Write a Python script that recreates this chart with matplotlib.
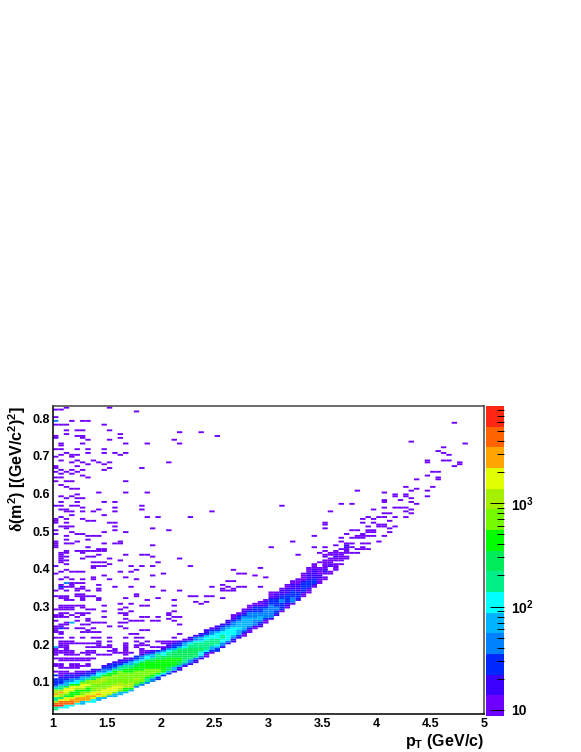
import numpy as np
import matplotlib
matplotlib.use('Agg')
import matplotlib.pyplot as plt
from matplotlib.colors import BoundaryNorm, ListedColormap

plt.rcParams['font.family'] = ['Liberation Sans', 'DejaVu Sans']
plt.rcParams['font.weight'] = 'bold'
plt.rcParams['mathtext.fontset'] = 'custom'
plt.rcParams['mathtext.rm'] = 'Liberation Sans:bold'
plt.rcParams['mathtext.it'] = 'Liberation Sans:bold'
plt.rcParams['mathtext.bf'] = 'Liberation Sans:bold'
plt.rcParams['mathtext.cal'] = 'Liberation Serif'

# histogram binning
pt_bins = np.linspace(1, 5, 81)
dm2_bins = 0.015 + 0.005 * np.arange(165)
band_step = 0.0066

# main band: lower edge of each pT bin, then counts going up in dm2
band_bottom = [.026, .029, .032, .035, .038, .041, .044, .047, .051, .054, .058, .062, .066, .070, .074,
               .083, .089, .095, .101, .107, .113, .119, .125, .131, .138, .145, .152, .159, .166, .174,
               .182, .190, .198, .206, .214, .222, .231, .239, .247, .256, .265, .275, .285, .295, .305,
               .315, .326, .337, .348, .360, .372, .384, .396, .408, .424]
band_counts = [
    [180, 7000, 4500, 1150, 180, 1800, 2900, 1150, 180, 72, 29, 18, 29],
    [115, 7000, 4500, 1800, 290, 1150, 2900, 1150, 180, 72, 29, 18, 18],
    [115, 4500, 4500, 1800, 290, 720, 1800, 1800, 290, 72, 45, 18, 18],
    [115, 4500, 2900, 1800, 460, 460, 1800, 1800, 460, 115, 45, 18],
    [115, 2900, 2900, 1800, 460, 460, 1150, 1800, 460, 115, 45, 29, 18],
    [72, 2900, 2900, 1800, 720, 460, 1150, 1800, 720, 180, 72, 29, 18],
    [115, 2900, 2900, 1800, 720, 460, 720, 1800, 720, 180, 72, 29, 18],
    [115, 1800, 2900, 1800, 720, 720, 720, 1150, 1150, 290, 72, 29, 18],
    [72, 1800, 2900, 1800, 1150, 720, 720, 1150, 1150, 290, 115, 45, 18],
    [72, 1150, 1800, 1800, 1150, 720, 720, 1150, 1150, 460, 115, 45, 29, 18],
    [72, 1150, 1800, 1800, 1150, 720, 720, 720, 1150, 460, 115, 45, 29, 18],
    [72, 720, 1800, 1800, 1150, 720, 720, 720, 1150, 460, 180, 45, 29, 18],
    [72, 720, 1150, 1800, 1150, 720, 720, 720, 720, 720, 180, 72, 29, 18],
    [72, 460, 1150, 1150, 720, 720, 720, 720, 460, 460, 180, 72, 29, 18],
    [72, 460, 1150, 1150, 720, 720, 720, 720, 460, 290, 180, 72, 29, 18],
    [45, 290, 720, 1150, 720, 720, 720, 460, 460, 290, 115, 72, 29],
    [45, 290, 720, 720, 720, 720, 460, 460, 460, 290, 115, 45, 18],
    [45, 180, 460, 720, 720, 720, 460, 460, 460, 290, 115, 45, 18],
    [45, 180, 460, 720, 720, 460, 460, 460, 290, 180, 72, 29, 18],
    [29, 115, 460, 720, 460, 460, 460, 460, 290, 180, 72, 29],
    [29, 115, 460, 460, 460, 460, 460, 290, 290, 115, 45, 18],
    [29, 72, 290, 460, 460, 460, 460, 290, 180, 115, 45, 18],
    [18, 72, 290, 460, 460, 460, 290, 290, 180, 72, 29, 18],
    [18, 72, 290, 290, 460, 290, 290, 290, 180, 72, 29, 18],
    [18, 45, 180, 290, 290, 290, 290, 180, 115, 72, 29, 12],
    [18, 45, 180, 290, 290, 290, 290, 180, 115, 45, 18],
    [18, 45, 180, 290, 290, 290, 180, 180, 115, 45, 18],
    [18, 45, 115, 180, 290, 180, 180, 115, 72, 29, 18],
    [12, 29, 115, 180, 180, 180, 180, 115, 72, 29, 18],
    [12, 29, 72, 180, 180, 180, 115, 115, 45, 29, 12],
    [29, 72, 115, 180, 180, 115, 115, 72, 29, 18],
    [18, 45, 115, 115, 180, 115, 115, 45, 29, 18],
    [18, 45, 115, 115, 115, 115, 72, 45, 29, 18],
    [18, 45, 72, 115, 115, 115, 72, 45, 29, 18, 12],
    [18, 29, 72, 72, 115, 72, 72, 45, 29, 18, 12],
    [12, 29, 45, 72, 72, 72, 72, 45, 29, 18, 12],
    [12, 29, 45, 72, 72, 72, 45, 45, 29, 18, 12],
    [12, 18, 45, 45, 72, 45, 45, 29, 29, 18, 12],
    [18, 29, 45, 72, 45, 45, 29, 29, 18, 12],
    [12, 29, 45, 45, 45, 45, 29, 18, 18, 12],
    [18, 45, 45, 45, 45, 45, 29, 29, 18, 12, 12],
    [18, 29, 45, 45, 29, 29, 29, 18, 18, 12],
    [12, 29, 29, 29, 45, 29, 29, 18, 18, 12],
    [12, 18, 29, 29, 29, 29, 18, 18, 12, 12],
    [12, 45, 45, 29, 29, 29, 18, 18, 12, 12],
    [18, 29, 29, 29, 18, 18, 18, 12, 12],
    [12, 18, 29, 29, 29, 29, 18, 12, 12, 12],
    [12, 18, 29, 29, 29, 18, 18, 18, 12, 12],
    [12, 18, 29, 29, 18, 18, 18, 18, 12, 12],
    [12, 12, 18, 18, 12, 12, 12, 0, 12],
    [12, 0, 12, 18, 12, 12, 12, 12, 0, 12],
    [12, 12, 0, 18, 12, 12, 12, 0, 12],
    [12, 12, 12, 0, 12, 18, 12, 12],
    [12, 0, 12, 12, 12, 0, 12],
    [12, 12, 0, 12, 0, 18, 12],
]

# scattered low-count cells: dm2 value, then the pT bins filled at that value
sparse_rows = [
    (.830, [2, 10]), (.825, [0, 1]), (.818, [15]), (.805, [0]), (.793, [0, 3, 5, 6]), (.782, [0, 1, 2, 9]),
    (.770, [2, 4, 5, 10]), (.765, [23, 27]), (.759, [2, 12]), (.753, [0, 4, 5, 30]), (.749, [0, 5, 12]),
    (.741, [6, 10, 22]), (.735, [1, 5, 13, 17, 23]), (.726, [1]), (.718, [0, 1, 4, 6, 9]),
    (.708, [2, 6, 9, 11, 13]), (.701, [1, 3, 4, 12]), (.696, [0, 3]), (.688, [1, 4, 7]),
    (.684, [8, 10, 21, 3, 5]), (.679, [6, 9]), (.674, [0, 4]), (.668, [0, 10, 16]), (.664, [1, 3, 5, 9]),
    (.657, [0, 2, 4]), (.653, [1, 3]), (.650, [5]), (.645, [0]), (.641, [1, 6]), (.635, [2, 13, 3]),
    (.631, [0]), (.623, [1]), (.618, [2]), (.611, [3, 4]), (.605, [8, 13, 17]), (.598, [4]), (.594, [1, 3]),
    (.588, [2, 4, 5]), (.577, [1, 4, 9, 11]), (.570, [0, 1, 3, 4, 16, 42]), (.565, [5, 11]),
    (.559, [1, 2, 8, 16]), (.552, [29]), (.551, [2, 3, 5, 7, 11]), (.544, [3, 9]), (.539, [1, 17, 19]),
    (.537, [25]), (.534, [0, 2, 5]), (.529, [0, 6, 7]), (.524, [0, 2]), (.521, [10, 11]),
    (.515, [1, 2, 3, 11]), (.510, [2, 18]), (.504, [0, 11, 21]), (.498, [3, 9, 13]), (.493, [0, 4, 5]),
    (.490, [6, 8]), (.487, [2, 7]), (.479, [2, 6]), (.472, [4, 12, 0]), (.467, [0, 2, 3, 9, 11, 12]),
    (.462, [0, 18]), (.459, [0, 6, 40]), (.453, [8, 9]), (.446, [2, 4, 5, 6, 7, 8, 9]), (.441, [1, 2, 5]),
    (.437, [1, 8, 13, 16, 17]), (.433, [1, 2, 18, 6, 7]), (.428, [1, 5, 10, 23]), (.421, [1, 2, 12]),
    (.417, [1, 7, 8, 9, 19]), (.413, [2, 10]), (.410, [25]), (.408, [0, 7, 8, 9, 14, 16, 18]), (.404, [7, 38]),
    (.399, [2, 15, 33]), (.394, [1, 12, 14]), (.391, [3, 4, 5]), (.390, [34]), (.389, [20]), (.387, [35]),
    (.386, [0]), (.383, [37]), (.382, [9, 18]), (.377, [2, 7, 13, 39]), (.374, [3, 10]), (.372, [1, 5, 7, 15]),
    (.369, [32]), (.367, [33]), (.364, [2, 3, 4, 5]), (.357, [1, 3, 8, 31]), (.353, [1, 2, 3, 5, 11, 14, 18, 32, 34, 35]),
    (.352, [29, 38]), (.348, [1, 4, 5, 8, 31, 33]), (.342, [0, 2, 4, 6, 8, 20, 23, 31, 32, 33]), (.335, [4, 5, 15]),
    (.330, [0, 1, 2, 4, 5, 6, 7, 15, 25, 26]), (.328, [28, 29]), (.324, [1, 2, 5, 8, 13, 19]), (.322, [31]),
    (.317, [2, 3, 5, 8, 17, 22]), (.314, [26, 28]), (.310, [12, 14]), (.309, [37]), (.308, [27]),
    (.304, [1, 2, 3, 4, 5, 9, 16, 17, 22]), (.298, [1, 2, 3, 5, 13]), (.292, [0, 1, 2, 3, 6, 7, 12]),
    (.288, [9, 14, 22]), (.284, [1, 2, 4, 5, 6, 12, 13, 21]), (.278, [0, 1, 3, 5, 13, 21]),
    (.272, [0, 1, 2, 4, 9, 16, 17, 19, 22, 23]), (.267, [6, 13, 21]), (.262, [0, 4, 6, 14, 15, 16, 18, 19, 22]),
    (.256, [2, 3, 7, 8, 9, 13, 12]), (.251, [1, 2, 5, 6, 23]), (.247, [0, 1, 10, 12]),
    (.241, [0, 1, 2, 4, 5, 7, 13]), (.238, [0, 6, 16, 17]), (.232, [0, 1, 5, 6, 7, 8]), (.227, [1, 14, 15, 23]),
    (.220, [0, 1, 3, 5, 7, 8, 10, 13]), (.216, [1, 5, 10, 15, 22, 16]), (.210, [1, 2, 3, 8, 17, 19, 20]),
    (.206, [10, 15, 19, 21, 22]), (.203, [1, 2, 3, 4, 5, 6, 7, 8, 13, 16, 20, 21]),
    (.197, [1, 2, 8, 10, 13, 15, 16, 17, 21, 22]), (.191, [0, 1, 2, 6, 7, 8, 9, 10, 13, 15, 18, 19, 20, 23]),
    (.188, [0, 2, 11, 13, 16]), (.182, [0, 1, 2, 3, 6, 7, 10, 11, 13, 16, 17, 19]),
    (.176, [0, 1, 2, 3, 5, 6, 7, 11, 12, 13, 14, 16, 21]), (.170, [0, 2, 3, 4, 6, 8, 9, 10, 13, 16, 17, 18, 19]),
    (.163, [0, 1, 2, 3, 4, 5, 6, 7, 13, 14, 17, 21, 22]), (.156, [1, 2, 3, 4, 5, 6, 13, 14, 15, 16, 17, 18, 19]),
    (.149, [0, 1, 3, 4, 6, 11, 12, 13, 15, 16, 17]), (.143, [0, 1, 3, 4, 5, 6, 9, 10, 12, 13, 15]),
    (.136, [1, 2, 3, 4, 9, 10, 11, 12, 14]), (.130, [0, 1, 2, 4, 5, 6, 8, 9, 10, 11, 12, 13]),
    (.123, [1, 2, 3, 4, 8, 9, 10, 11]), (.117, [0, 1, 2, 3, 4, 6, 7, 8, 9]), (.110, [0, 1, 2, 3, 6, 7, 8]),
    (.103, [0, 1, 2, 4, 5, 6]), (.096, [0, 1, 2, 3, 4, 5]),
]

# the thin tail at high pT
tail_bin = [74, 66, 76, 72, 71, 72, 73, 69, 72, 73, 75, 75, 69, 74, 71, 70, 69, 71, 71, 67, 65, 70, 67, 66, 69,
            56, 61, 63, 65, 63, 65, 69, 66, 64, 61, 61, 66, 53, 55, 67, 61, 63, 64, 65, 66, 59, 65, 66, 51, 61,
            62, 58, 60, 61, 63, 65, 57, 59, 62, 50, 57, 59, 50, 60, 61, 58, 63, 50, 60, 61, 62, 55, 56, 58, 59,
            58, 59, 62, 54, 57, 56, 57, 58, 59, 61, 48, 55, 56, 57, 53, 44, 53, 60, 55, 57, 58, 54, 52, 55, 57,
            56, 57, 58, 48, 50, 53, 54, 50, 51, 55, 56, 54, 49, 53, 45, 52, 54]
tail_dm2 = [.787, .740, .734, .721, .711, .708, .703, .689, .689, .689, .685, .680, .682, .671, .658, .657, .650,
            .645, .637, .640, .618, .618, .612, .609, .610, .610, .604, .600, .600, .593, .595, .595, .587, .582,
            .584, .580, .580, .573, .573, .573, .565, .565, .565, .562, .559, .558, .552, .550, .552, .550, .547,
            .540, .540, .540, .537, .540, .535, .535, .530, .525, .525, .522, .517, .517, .517, .514, .514, .509,
            .512, .512, .507, .505, .502, .505, .505, .497, .497, .497, .492, .492, .490, .490, .487, .487, .487,
            .487, .482, .482, .482, .482, .473, .473, .471, .470, .470, .467, .464, .465, .458, .458, .453, .453,
            .453, .457, .457, .451, .451, .450, .445, .445, .445, .441, .443, .441, .440, .437, .435]

# cells that stand out from the lowest level
strong_bin = [0, 2, 3, 0, 1, 1, 0, 2, 1, 2, 3, 4, 0, 1, 3, 5]
strong_dm2 = [.793, .364, .256, .191, .353, .241, .117, .117, .110, .110, .096, .096, .103, .103, .117, .103]
strong_n = [45, 45, 72, 72, 29, 29, 29, 29, 29, 29, 29, 29, 29, 29, 29, 29]

level_colors = ['#6e00ff', '#3c00ff', '#0028ff', '#0082ff', '#00b4ff', '#00ffff', '#00f087', '#00eb5a',
                '#00ff00', '#73fa00', '#a5f000', '#e1ff00', '#ffa500', '#ff6400', '#ff2814']
levels = np.logspace(np.log10(8.75), np.log10(8660), 16)

counts = np.zeros((len(pt_bins) - 1, len(dm2_bins) - 1))


def fill(b, y, n):
    row = np.searchsorted(dm2_bins, y) - 1
    if 0 <= row < counts.shape[1]:
        counts[b, row] = max(counts[b, row], n)


for y, bins in sparse_rows:
    for b in bins:
        fill(b, y, 12)
for b, y in zip(tail_bin, tail_dm2):
    fill(b, y, 12)
for b, y, n in zip(strong_bin, strong_dm2, strong_n):
    fill(b, y, n)
# a band entry covers band_step in dm2, which can be more than one histogram row
centres = 0.5 * (dm2_bins[:-1] + dm2_bins[1:])
for b, (low, column) in enumerate(zip(band_bottom, band_counts)):
    for i, n in enumerate(column):
        inside = (centres >= low + band_step * i) & (centres < low + band_step * (i + 1))
        counts[b, inside] = np.maximum(counts[b, inside], n)

cmap = ListedColormap(level_colors)
norm = BoundaryNorm(levels, cmap.N)

fig = plt.figure(figsize=(5.81, 7.52), dpi=100)
ax = fig.add_axes([53 / 581, 38 / 752, 431 / 581, 308 / 752])
mesh = ax.pcolor(pt_bins, dm2_bins, np.ma.masked_less(counts.T, 1), cmap=cmap, norm=norm,
                 edgecolors='none', antialiased=True)
mesh.set_snap(False)
ax.set_xlim(1, 5)
ax.set_ylim(0.0151, 0.832)
ax.set_xticks([1, 1.5, 2, 2.5, 3, 3.5, 4, 4.5, 5], ['1', '1.5', '2', '2.5', '3', '3.5', '4', '4.5', '5'])
ax.set_yticks([.1, .2, .3, .4, .5, .6, .7, .8], ['0.1', '0.2', '0.3', '0.4', '0.5', '0.6', '0.7', '0.8'])
ax.tick_params(length=0, labelsize=9)
ax.tick_params(axis='y', pad=2)
ax.tick_params(axis='x', pad=3)
for name, spine in ax.spines.items():
    spine.set_linewidth(1.1)
    spine.set_color('black' if name in ('left', 'bottom') else '#444444')

fig.text(484 / 581, 1 - 746 / 752, r'$\mathregular{p_{T}}$ (GeV/c)', ha='right', va='baseline', fontsize=11.5)
fig.text(17 / 581, 1 - 406 / 752, r'$\mathcal{\delta}$(m$^{2}$) [(GeV/c$^{2}$)$^{2}$]', rotation=90, ha='center', va='top', fontsize=11.5)

cax = fig.add_axes([486 / 581, 36 / 752, 18 / 581, 310 / 752])
cax.pcolormesh([0, 1], levels, np.arange(15).reshape(-1, 1), cmap=cmap, vmin=0, vmax=14)
cax.set_yscale('log')
cax.set_ylim(levels[0], levels[-1])
cax.set_xlim(0, 1)
cax.set_xticks([])
cax.yaxis.tick_right()
cax.set_yticks([10, 100, 1000], ['10', r'10$^{2}$', r'10$^{3}$'])
cax.set_yticks([n * d for d in (10, 100, 1000) for n in range(2, 10) if n * d < 8600], minor=True)
cax.set_yticklabels([], minor=True)
cax.tick_params(axis='y', which='major', direction='in', length=10, width=0.7, labelsize=10, pad=5)
cax.tick_params(axis='y', which='minor', direction='in', length=5, width=0.7)
for spine in cax.spines.values():
    spine.set_visible(False)

fig.savefig('out.png', dpi=100)
